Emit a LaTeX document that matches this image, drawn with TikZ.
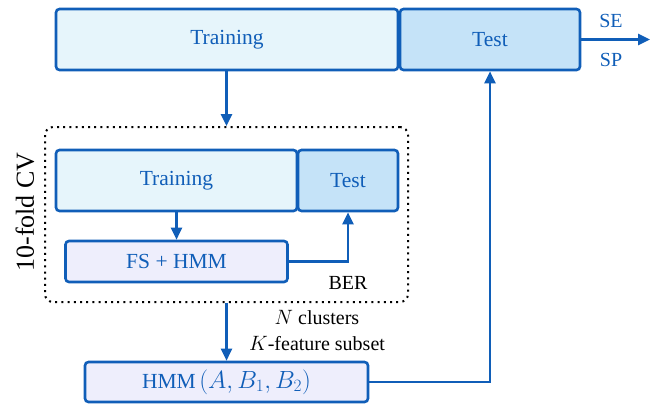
\documentclass[tikz,border=0pt]{standalone}
\usepackage{fontspec}
\setmainfont{Liberation Serif}
\usetikzlibrary{arrows.meta}
\definecolor{bblue}{RGB}{16,94,184}
\definecolor{trainfill}{RGB}{230,245,251}
\definecolor{testfill}{RGB}{197,227,248}
\definecolor{lavfill}{RGB}{238,238,252}
\tikzset{
  box/.style={draw=bblue, line width=2.6pt, rounded corners=3.5pt, text=bblue,
    font=\fontsize{21.5}{25}\selectfont, inner sep=0pt, anchor=center},
  trainbox/.style={box, fill=trainfill},
  testbox/.style={box, fill=testfill},
  lavbox/.style={box, fill=lavfill},
  arr/.style={draw=bblue, line width=2.5pt, -{Triangle[length=12pt,width=11pt]}},
  lbl/.style={font=\fontsize{20}{24}\selectfont, inner sep=0pt},
}
\begin{document}
\begin{tikzpicture}[x=1pt,y=-1pt]
\useasboundingbox (0,0) rectangle (667,408);
% dotted CV frame
\node[draw=black, line width=2pt, dash pattern=on 2pt off 4.2pt, rounded corners=8pt,
  minimum width=363pt, minimum height=175pt, inner sep=0pt] (cv) at (226.5,214.5) {};
\node[rotate=90, font=\fontsize{26}{30}\selectfont, inner sep=0pt] (cvlabel) at (25,212) {10-fold CV};
% top row
\node[trainbox, minimum width=342pt, minimum height=61pt] (train) at (227,39.5) {Training};
\node[testbox, minimum width=180pt, minimum height=61pt] (test) at (490,39.5) {Test};
\coordinate (out) at (650,39.5);
\draw[arr] (test.east) -- (out);
\node[lbl, text=bblue] (se) at (611,21) {SE};
\node[lbl, text=bblue] (sp) at (611,60) {SP};
% inner
\node[trainbox, minimum width=241pt, minimum height=61pt] (itrain) at (176.5,180.5) {Training};
\node[testbox, minimum width=100pt, minimum height=61pt] (itest) at (348,180.5) {Test};
\node[lavbox, minimum width=222pt, minimum height=41pt] (fs) at (176.5,261.5) {FS + HMM};
\node[lbl] (ber) at (348,283) {BER};
\draw[arr] (itrain.south) -- (fs.north);
\draw[arr] (fs.east) -| (itest.south);
% arrows to/from CV
\draw[arr] (train.south -| cv.north) -- (cv.north);
% HMM
\node[lavbox, minimum width=283pt, minimum height=40pt] (hmm) at (226.5,382) {HMM\,{\fontsize{24.5}{28}\selectfont$(A,B_1,B_2)$}};
\draw[arr] (cv.south) -- (hmm.north);
\node[lbl, align=center] (info) at (317,331) {$N$ clusters\\[2pt]$K$-feature subset};
\draw[arr] (hmm.east) -| (test.south);
\end{tikzpicture}
\end{document}
